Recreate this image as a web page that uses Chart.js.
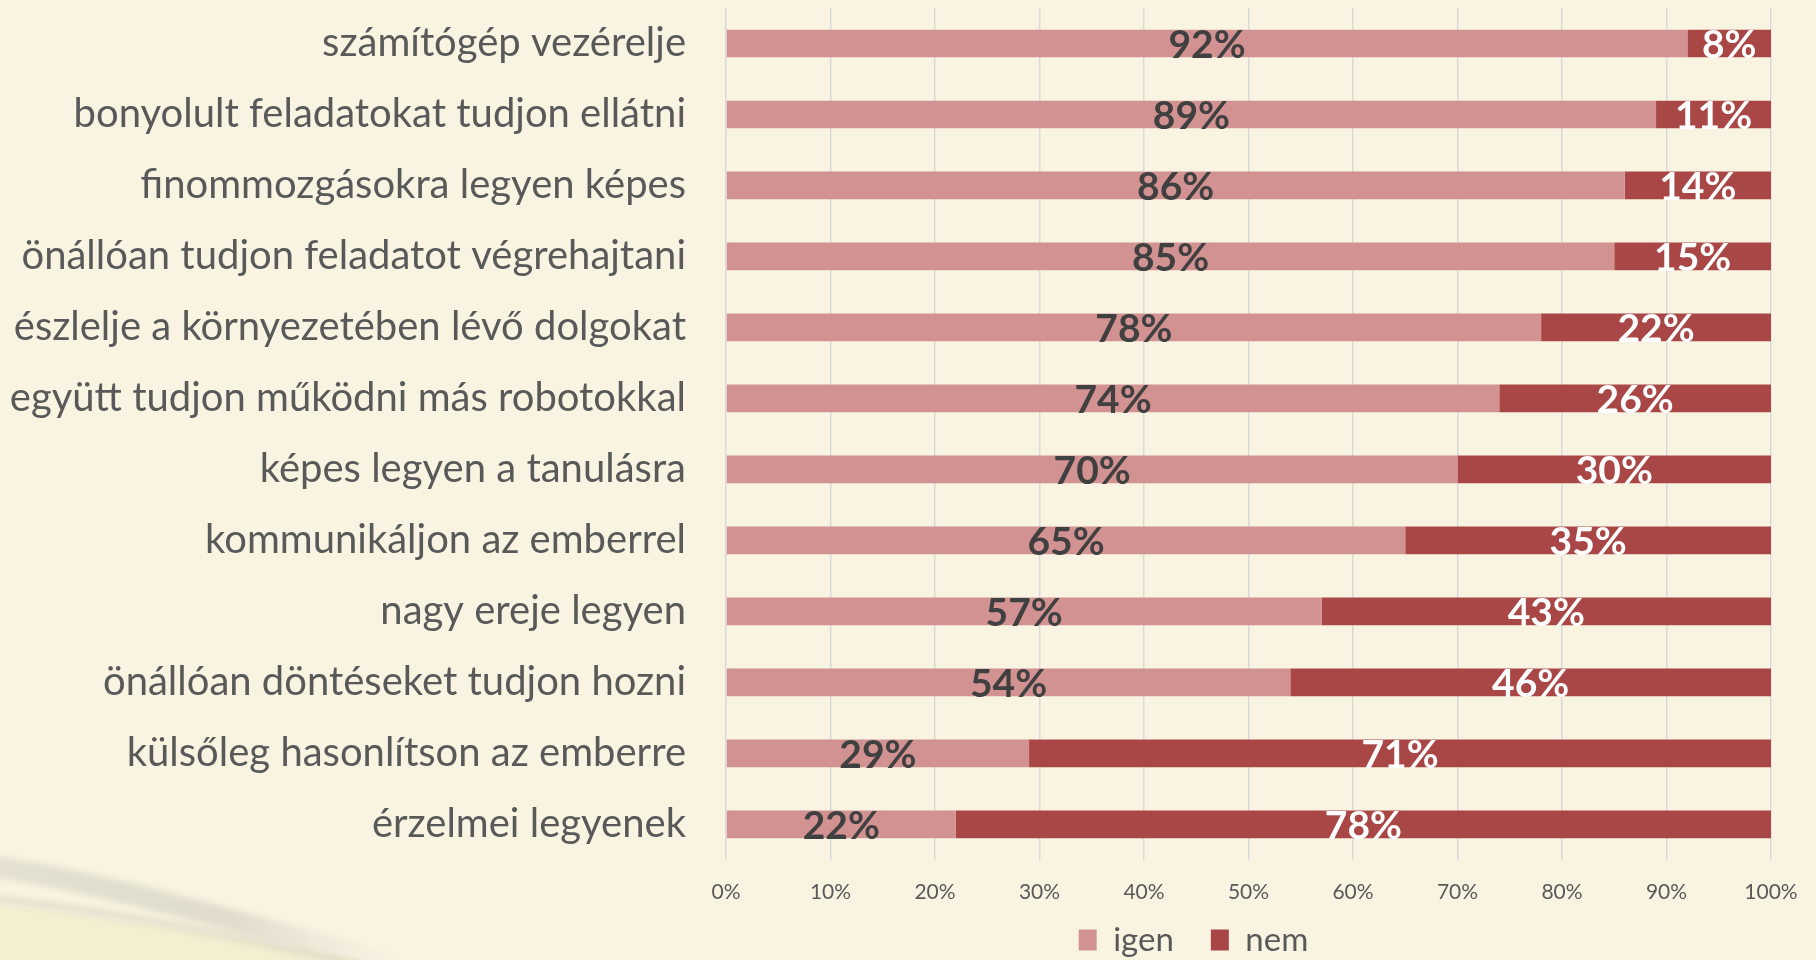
<!DOCTYPE html>
<html><head><meta charset="utf-8">
<script src="https://cdn.jsdelivr.net/npm/chart.js@4.4.1/dist/chart.umd.min.js"></script>
<style>
html,body{margin:0;padding:0;background:#F9F4E2;width:1816px;height:960px;overflow:hidden;}
#wrap{position:relative;width:1816px;height:960px;overflow:hidden;}
#deco{position:absolute;left:0;top:0;}
#c{position:absolute;left:0;top:0;}
</style></head><body>
<div id="wrap">
<svg id="deco" width="1816" height="960" xmlns="http://www.w3.org/2000/svg">
  <defs>
    <filter id="bl" x="-20%" y="-50%" width="140%" height="200%"><feGaussianBlur stdDeviation="3"/></filter>
    <linearGradient id="bg1" x1="0" y1="0" x2="1" y2="0">
      <stop offset="0" stop-color="#E4E0CF" stop-opacity="0.95"/>
      <stop offset="0.6" stop-color="#DCD8C8" stop-opacity="0.85"/>
      <stop offset="1" stop-color="#EFEADB" stop-opacity="0.2"/>
    </linearGradient>
  </defs>
  <path d="M0,905 C110,918 250,940 400,966 L0,966 Z" fill="#F3EFD1"/>
  <path d="M-10,866 C110,884 250,925 400,966" fill="none" stroke="url(#bg1)" stroke-width="22" filter="url(#bl)"/>
  <path d="M-10,898 C110,912 240,935 360,966" fill="none" stroke="#DEDAC7" stroke-opacity="0.75" stroke-width="8" filter="url(#bl)"/>
</svg>
<canvas id="c" width="1816" height="1005"></canvas>
</div>
<script>
const categories = [
  'számítógép vezérelje',
  'bonyolult feladatokat tudjon ellátni',
  'finommozgásokra legyen képes',
  'önállóan tudjon feladatot végrehajtani',
  'észlelje a környezetében lévő dolgokat',
  'együtt tudjon működni más robotokkal',
  'képes legyen a tanulásra',
  'kommunikáljon az emberrel',
  'nagy ereje legyen',
  'önállóan döntéseket tudjon hozni',
  'külsőleg hasonlítson az emberre',
  'érzelmei legyenek'
];
const igenValues = [92, 89, 86, 85, 78, 74, 70, 65, 57, 54, 29, 22];
const nemValues  = [8, 11, 14, 15, 22, 26, 30, 35, 43, 46, 71, 78];
const seriesNames = ['igen', 'nem'];
const tickStep = 10;
const tickSuffix = '%';

const FONT = 'Lato';
const labelColors = ['#404040', '#FFFFFF'];
const LEGEND_PAD = 37;
const LEGEND_FONT = 33;

const barLabelPlugin = {
  id: 'barLabels',
  afterDatasetsDraw(chart) {
    const ctx = chart.ctx;
    chart.data.datasets.forEach((ds, di) => {
      const meta = chart.getDatasetMeta(di);
      meta.data.forEach((bar, i) => {
        const p = bar.getProps(['x', 'y', 'base'], true);
        ctx.save();
        ctx.font = 'bold 39px ' + FONT;
        ctx.fillStyle = labelColors[di];
        ctx.textAlign = 'center';
        ctx.textBaseline = 'middle';
        ctx.fillText(ds.data[i] + '%', (p.x + p.base) / 2, p.y + 2);
        ctx.restore();
      });
    });
  }
};

const legendShiftPlugin = {
  id: 'legendShift',
  afterLayout(chart) {
    const lg = chart.legend;
    if (!lg) return;
    const dx = 308;
    lg.left += dx;
    lg.right += dx;
    const dy = (940 - LEGEND_PAD - LEGEND_FONT / 2) - lg.top;
    lg.top += dy;
    lg.bottom += dy;
  }
};

new Chart(document.getElementById('c'), {
  type: 'bar',
  data: {
    labels: categories,
    datasets: [
      { label: seriesNames[0], data: igenValues, backgroundColor: '#D39292', borderWidth: 0,
        barPercentage: 0.39, categoryPercentage: 1.0 },
      { label: seriesNames[1], data: nemValues, backgroundColor: '#A94646', borderWidth: 0,
        barPercentage: 0.39, categoryPercentage: 1.0 }
    ]
  },
  options: {
    indexAxis: 'y',
    responsive: false,
    animation: false,
    devicePixelRatio: 1,
    layout: { padding: { left: 0, right: 45, top: 8, bottom: 0 } },
    scales: {
      x: {
        stacked: true, min: 0, max: 100,
        ticks: { stepSize: tickStep, callback: v => v + tickSuffix, color: '#595959',
                 font: { family: FONT, size: 21 }, padding: 20 },
        grid: { color: '#D9D9D9', lineWidth: 1.5, drawTicks: false },
        border: { display: false },
        afterFit: s => { s.paddingLeft = 0; s.paddingRight = 0; }
      },
      y: {
        stacked: true,
        ticks: { color: '#595959', font: { family: FONT, size: 40 }, padding: 40 },
        grid: { display: false, drawTicks: false },
        border: { display: false },
        afterFit: s => { s.width = 726; s.paddingTop = 0; s.paddingBottom = 0; }
      }
    },
    plugins: {
      legend: {
        position: 'bottom',
        labels: { boxWidth: 18, boxHeight: 21, color: '#595959', padding: LEGEND_PAD,
                  font: { family: FONT, size: LEGEND_FONT } }
      },
      tooltip: { enabled: false }
    }
  },
  plugins: [barLabelPlugin, legendShiftPlugin]
});
</script>
</body></html>
